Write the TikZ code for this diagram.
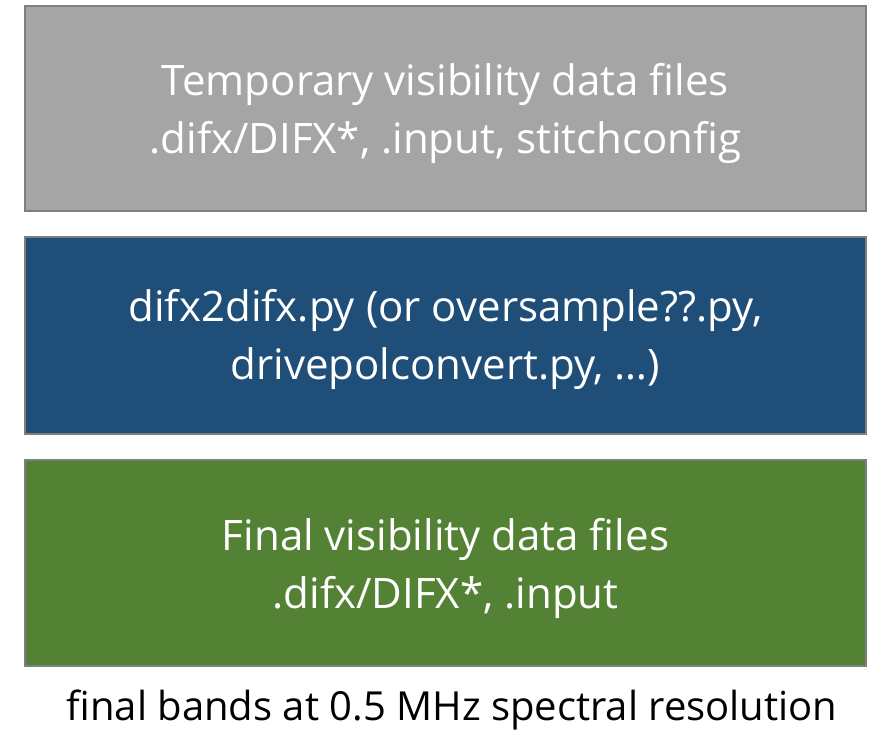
\documentclass[tikz,border=0pt]{standalone}
\usepackage{fontspec}
\setmainfont{Open Sans}
\definecolor{grayfill}{HTML}{A5A5A5}
\definecolor{bluefill}{HTML}{1F4E79}
\definecolor{greenfill}{HTML}{548235}
\definecolor{edge}{HTML}{7F7F7F}
\begin{document}
\begin{tikzpicture}[x=1pt,y=1pt,
  blockbox/.style={draw=edge, line width=2.2pt, minimum width=841, inner sep=0pt},
  blocktext/.style={text=white, align=center, inner sep=0pt, font=\fontsize{42}{58}\selectfont}]
\useasboundingbox[fill=white] (0,0) rectangle (874,-731);
\node[blockbox, fill=grayfill, minimum height=205] (temp) at (445.5,-108.5) {};
\node[blocktext] (temptext) at ([yshift=-5pt]temp.center)
  {Temporary visibility data files\\.difx/DIFX*, .input, stitchconfig};
\node[blockbox, fill=bluefill, minimum height=197] (proc) at (445.5,-335.5) {};
\node[blocktext] (proctext) at ([yshift=-4pt]proc.center)
  {difx2difx.py (or oversample??.py,\\drivepolconvert.py, …)};
\node[blockbox, fill=greenfill, minimum height=206] (final) at (445.5,-563) {};
\node[blocktext] (finaltext) at ([yshift=-5pt]final.center)
  {Final visibility data files\\.difx/DIFX*, .input};
\node[font=\fontsize{40}{48}\selectfont, text=black, inner sep=0pt] (cap) at (452,-710)
  {final bands at 0.5 MHz spectral resolution};
\end{tikzpicture}
\end{document}
